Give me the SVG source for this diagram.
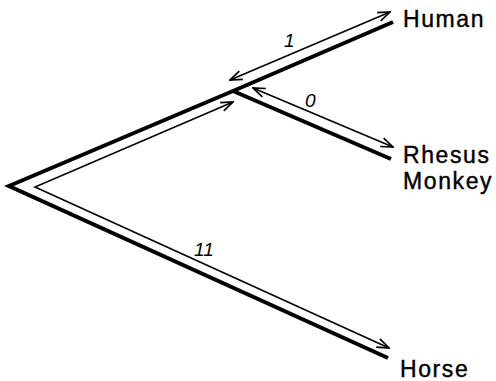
<svg xmlns="http://www.w3.org/2000/svg" width="496" height="381" viewBox="0 0 496 381">
<defs>
<marker id="ah" viewBox="0 0 14 12" refX="13" refY="6" markerWidth="14" markerHeight="12" markerUnits="userSpaceOnUse" orient="auto-start-reverse">
<path d="M1,1.5 L13,6 L1,10.5" fill="none" stroke="#000" stroke-width="1.7" stroke-linejoin="miter"/>
</marker>
</defs>
<style>
.tree{fill:none;stroke:#000;stroke-width:4;stroke-linejoin:miter;stroke-linecap:butt}
.arr{fill:none;stroke:#000;stroke-width:1.6}
.lbl{font-family:"Liberation Sans",Arial,sans-serif;font-size:23px;letter-spacing:1.6px;fill:#000;stroke:#000;stroke-width:0.4}
.num{font-family:"Liberation Sans",Arial,sans-serif;font-size:19px;font-style:italic;fill:#000}
</style>
<g id="connectors">
<polyline class="tree" points="393,22 233,91 9,186 388,358"/>
<line class="tree" x1="233" y1="91" x2="391" y2="159"/>
<polyline class="arr" points="233,102 35,187 389,348" marker-start="url(#ah)" marker-end="url(#ah)"/>
<line class="arr" x1="230" y1="80" x2="390" y2="12" marker-start="url(#ah)" marker-end="url(#ah)"/>
<line class="arr" x1="253" y1="88" x2="393" y2="147" marker-start="url(#ah)" marker-end="url(#ah)"/>
<text class="num" x="284" y="47">1</text>
<text class="num" x="305" y="107">0</text>
<text class="num" x="194" y="256">11</text>
</g>
<g id="human"><text class="lbl" x="403" y="27">Human</text></g>
<g id="rhesus"><text class="lbl" x="403" y="163">Rhesus</text><text class="lbl" x="403" y="189">Monkey</text></g>
<g id="horse"><text class="lbl" x="400" y="377">Horse</text></g>
</svg>
